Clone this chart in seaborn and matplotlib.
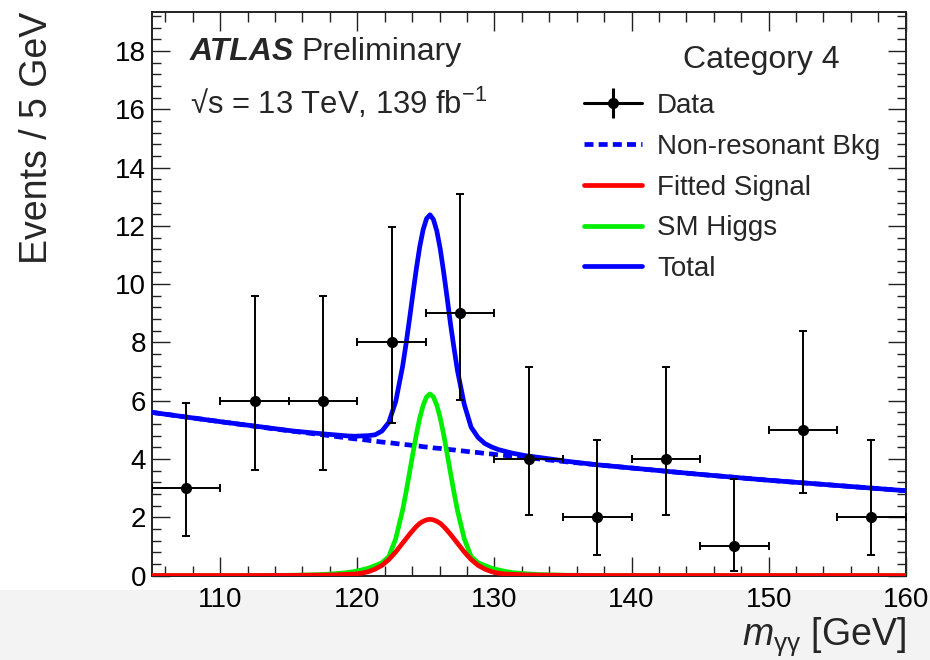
import matplotlib
matplotlib.use("Agg")
import numpy as np
import pandas as pd
import matplotlib.pyplot as plt
import seaborn as sns
from matplotlib.lines import Line2D
from matplotlib.patches import Rectangle
from matplotlib.ticker import MultipleLocator

# --- data ---
bin_centers = [107.5, 112.5, 117.5, 122.5, 127.5, 132.5, 137.5, 142.5, 147.5, 152.5, 157.5]
counts = [3, 6, 6, 8, 9, 4, 2, 4, 1, 5, 2]
err_low = [1.63, 2.38, 2.38, 2.78, 2.96, 1.91, 1.29, 1.91, 0.83, 2.16, 1.29]
err_high = [2.92, 3.58, 3.58, 3.96, 4.11, 3.16, 2.64, 3.16, 2.30, 3.38, 2.64]
bin_half_width = 2.5

mass_grid = [105, 107.5, 110, 112.5,
             115.3, 117.3, 118.3, 119.3, 119.8, 120.3, 120.8, 121.3, 121.8, 122.3, 122.8, 123.3,
             123.55, 123.8, 124.05, 124.3, 124.55, 124.8, 125.05, 125.3,
             125.55, 125.8, 126.05, 126.3, 126.55, 126.8, 127.05, 127.3,
             127.8, 128.3, 128.8, 129.3, 129.8, 130.3, 130.8, 131.3,
             132.3, 133.3, 135.3,
             137.5, 140, 142.5, 145, 147.5, 150, 152.5, 155, 157.5, 160]
bkg_curve = [5.60, 5.44, 5.28, 5.12,
             4.95, 4.84, 4.78, 4.72, 4.69, 4.67, 4.64, 4.61, 4.58, 4.56, 4.53, 4.50,
             4.49, 4.48, 4.46, 4.45, 4.44, 4.42, 4.41, 4.40,
             4.38, 4.37, 4.36, 4.34, 4.33, 4.32, 4.31, 4.29,
             4.27, 4.24, 4.22, 4.19, 4.17, 4.14, 4.12, 4.09,
             4.04, 4.00, 3.90,
             3.80, 3.69, 3.58, 3.47, 3.37, 3.27, 3.18, 3.09, 3.00, 2.91]
total_curve = [5.60, 5.44, 5.28, 5.13,
               4.96, 4.87, 4.83, 4.79, 4.78, 4.79, 4.80, 4.83, 4.96, 5.26, 5.97, 7.17,
               7.94, 8.78, 9.66, 10.51, 11.28, 11.87, 12.25, 12.38,
               12.22, 11.82, 11.20, 10.40, 9.53, 8.62, 7.81, 7.04,
               5.87, 5.09, 4.74, 4.53, 4.41, 4.32, 4.26, 4.20,
               4.11, 4.05, 3.92,
               3.80, 3.69, 3.58, 3.47, 3.37, 3.27, 3.18, 3.09, 3.00, 2.91]
sm_higgs_curve = [0, 0, 0, 0,
                  0.01, 0.03, 0.06, 0.10, 0.14, 0.19, 0.25, 0.34, 0.44, 0.65, 1.26, 2.24,
                  2.85, 3.51, 4.18, 4.83, 5.40, 5.84, 6.13, 6.23,
                  6.13, 5.84, 5.40, 4.83, 4.18, 3.51, 2.85, 2.24,
                  1.26, 0.65, 0.44, 0.34, 0.25, 0.19, 0.14, 0.10,
                  0.06, 0.03, 0.01,
                  0, 0, 0, 0, 0, 0, 0, 0, 0, 0]
signal_curve = [0, 0, 0, 0,
                0.005, 0.015, 0.02, 0.04, 0.05, 0.08, 0.13, 0.22, 0.35, 0.55, 0.81, 1.11,
                1.26, 1.41, 1.55, 1.68, 1.79, 1.86, 1.91, 1.93,
                1.91, 1.86, 1.79, 1.68, 1.55, 1.41, 1.26, 1.11,
                0.81, 0.55, 0.35, 0.22, 0.13, 0.08, 0.05, 0.04,
                0.02, 0.015, 0.005,
                0, 0, 0, 0, 0, 0, 0, 0, 0, 0]

curves = pd.DataFrame({"mass": mass_grid, "bkg": bkg_curve, "total": total_curve,
                       "sm": sm_higgs_curve, "signal": signal_curve})

# --- style ---
sns.set_theme(style="ticks")
plt.rcParams["font.family"] = ["Liberation Sans", "DejaVu Sans"]
plt.rcParams["mathtext.fontset"] = "custom"
plt.rcParams["mathtext.rm"] = "Liberation Sans"
plt.rcParams["mathtext.it"] = "Liberation Sans:italic"
plt.rcParams["mathtext.bf"] = "Liberation Sans:bold"

fig = plt.figure(figsize=(9.3, 6.6), dpi=100)
fig.patches.append(Rectangle((0, 0), 1, 0.106, transform=fig.transFigure,
                             facecolor="#f3f3f3", edgecolor="none", zorder=-10))
ax = fig.add_axes([0.1631, 0.128, 0.8108, 0.8543])

blue, red, green = "#0000ff", "#ff0000", "#00ee00"
lw = 3.4

sns.lineplot(data=curves, x="mass", y="bkg", ax=ax, color=blue, lw=lw, zorder=2)
ax.lines[-1].set_dashes([1.9, 1.1])
sns.lineplot(data=curves, x="mass", y="sm", ax=ax, color=green, lw=lw, zorder=3)
sns.lineplot(data=curves, x="mass", y="signal", ax=ax, color=red, lw=lw, zorder=4)
sns.lineplot(data=curves, x="mass", y="total", ax=ax, color=blue, lw=lw, zorder=3)

ax.errorbar(bin_centers, counts, xerr=bin_half_width, yerr=[err_low, err_high],
            fmt="o", color="black", ms=7, elinewidth=1.4, capsize=3,
            capthick=1.4, zorder=6)

ax.set_xlim(105, 160)
ax.set_ylim(0, 19.35)
ax.xaxis.set_major_locator(MultipleLocator(10))
ax.xaxis.set_minor_locator(MultipleLocator(2))
ax.yaxis.set_major_locator(MultipleLocator(2))
ax.yaxis.set_minor_locator(MultipleLocator(0.4))
ax.tick_params(which="both", direction="in", top=True, right=True, width=1.0,
               color="#222222", labelsize=20, labelcolor="black")
ax.tick_params(axis="x", which="major", length=14, pad=8)
ax.tick_params(axis="x", which="minor", length=7)
ax.tick_params(axis="y", which="major", length=13, pad=4)
ax.tick_params(axis="y", which="minor", length=6.5)
for sp in ax.spines.values():
    sp.set_linewidth(1.4)
    sp.set_color("#222222")

ax.set_xlabel(r"$m_{\rm γγ}$ [GeV]", fontsize=27, loc="right", labelpad=2)
ax.set_ylabel("Events / 5 GeV", fontsize=27, loc="top")
ax.yaxis.set_label_coords(-0.128, 1.0)

atlas = ax.text(0.051, 0.9285, "ATLAS", transform=ax.transAxes, fontsize=23,
                fontweight="bold", fontstyle="italic", va="center")
ax.annotate("Preliminary", xy=(1, 0), xycoords=atlas, xytext=(5, 0),
            textcoords="offset points", fontsize=23, va="bottom")
ax.text(0.051, 0.8377, "√s = 13 TeV, 139 fb$^{-1}$", transform=ax.transAxes,
        fontsize=22.3, va="center")
ax.text(0.7043, 0.9143, "Category 4", transform=ax.transAxes, fontsize=23, va="center")

data_handle = (Line2D([], [], color="black", lw=2.2),
               Line2D([], [], color="black", marker="|", ms=22, mew=2.2, ls=""),
               Line2D([], [], color="black", marker="o", ms=7, ls=""))
handles = [data_handle,
           Line2D([], [], color=blue, lw=lw, dashes=[1.9, 1.1]),
           Line2D([], [], color=red, lw=lw),
           Line2D([], [], color=green, lw=lw),
           Line2D([], [], color=blue, lw=lw)]
labels = ["Data", "Non-resonant Bkg", "Fitted Signal", "SM Higgs", "Total"]
ax.legend(handles, labels, loc="upper left", bbox_to_anchor=(0.5733, 0.8555),
          frameon=False, fontsize=20, handlelength=2.08, handletextpad=0.55,
          labelspacing=0.53, borderpad=0, borderaxespad=0)

fig.savefig("out.png", dpi=100)
